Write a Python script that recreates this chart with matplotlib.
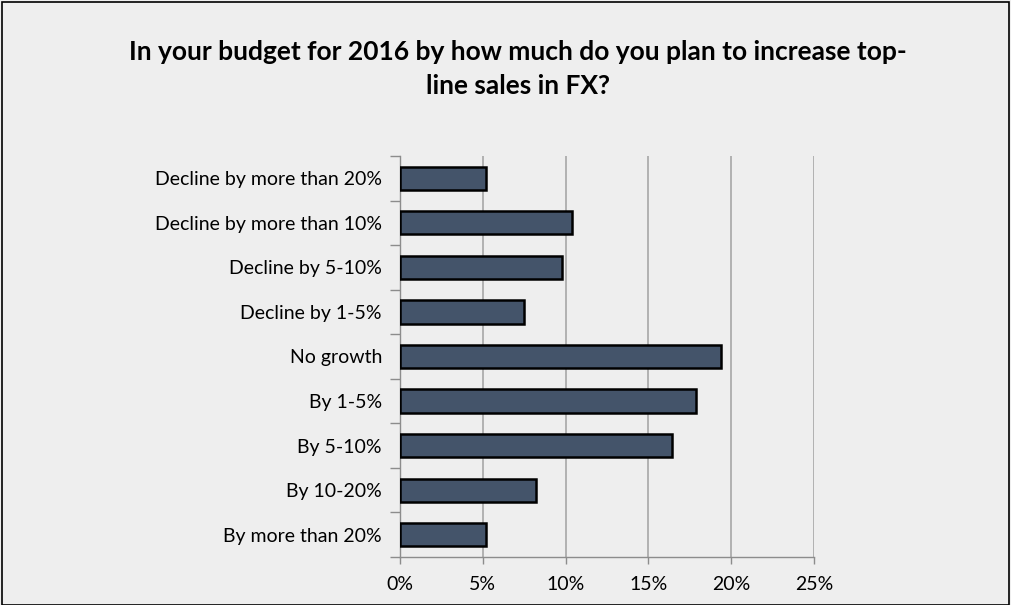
import numpy as np
import matplotlib.pyplot as plt
from matplotlib.patches import Rectangle
from matplotlib.ticker import FuncFormatter, FixedLocator

categories = ['Decline by more than 20%', 'Decline by more than 10%', 'Decline by 5-10%',
              'Decline by 1-5%', 'No growth', 'By 1-5%', 'By 5-10%', 'By 10-20%',
              'By more than 20%']
shares = [5.2, 10.4, 9.8, 7.5, 19.4, 17.9, 16.4, 8.2, 5.2]
xticks = [0, 5, 10, 15, 20, 25]

plt.rcParams['font.family'] = ['Lato', 'DejaVu Sans']
bg = '#eeeeee'

fig = plt.figure(figsize=(10.11, 6.05), dpi=100, facecolor=bg)
ax = fig.add_axes([400 / 1011, 1 - 557 / 605, 414 / 1011, 401 / 605])
ax.set_facecolor(bg)

y = np.arange(len(categories))
ax.barh(y, shares, height=0.52, color='#44546a', edgecolor='black', linewidth=1.8, zorder=3)

ax.set_xlim(0, 25)
ax.set_ylim(len(categories) - 0.5, -0.5)
ax.xaxis.set_major_locator(FixedLocator(xticks))
ax.xaxis.set_major_formatter(FuncFormatter(lambda v, p: f'{v:.0f}%'))
ax.grid(axis='x', color='#a6a6a6', linewidth=1.2, zorder=0)

# category labels sit between boundary ticks
ax.set_yticks(np.arange(len(categories) + 1) - 0.5)
ax.set_yticklabels([])
ax.set_yticks(y, minor=True)
ax.set_yticklabels(categories, minor=True)
ax.tick_params(axis='y', which='minor', length=0, pad=13, labelsize=14)
ax.tick_params(axis='y', which='major', length=7, color='#8c8c8c', width=1)
ax.tick_params(axis='x', length=5, color='#8c8c8c', width=1, labelsize=14, pad=9)

for side in ['top', 'right']:
    ax.spines[side].set_visible(False)
for side in ['left', 'bottom']:
    ax.spines[side].set_color('#8c8c8c')
    ax.spines[side].set_linewidth(1)

fig.text(0.512, 1 - 52 / 605, 'In your budget for 2016 by how much do you plan to increase top-',
         ha='center', va='center', fontsize=19, fontweight='bold')
fig.text(0.512, 1 - 86 / 605, 'line sales in FX?',
         ha='center', va='center', fontsize=19, fontweight='bold')

fig.patches.append(Rectangle((0.002, 0.0), 0.996, 0.996, transform=fig.transFigure,
                             fill=False, edgecolor='black', linewidth=1.2))

fig.savefig('out.png', dpi=100, facecolor=bg)
